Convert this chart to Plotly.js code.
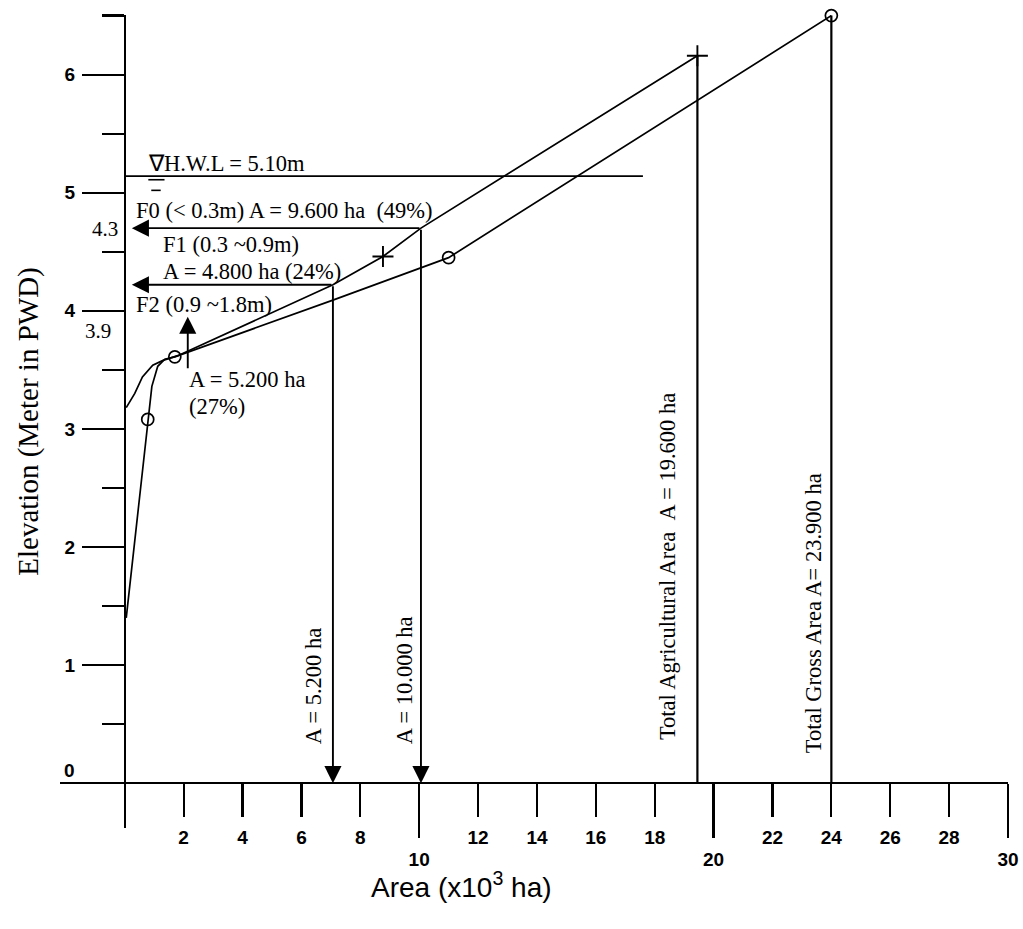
<!DOCTYPE html>
<html>
<head>
<meta charset="utf-8">
<script src="https://cdn.plot.ly/plotly-3.0.1.min.js"></script>
<style>html,body{margin:0;padding:0;background:#fff;}</style>
</head>
<body>
<div id="chart" style="width:1023px;height:929px;"></div>
<script>
// ---- Data (area in x10^3 ha, elevation in m PWD) ----
const grossArea = [0.05, 0.78, 0.92, 1.12, 1.36, 1.70, 7.07, 11.0, 24.0];
const grossElev = [1.40, 3.08, 3.36, 3.53, 3.59, 3.61, 4.09, 4.45, 6.50];
const grossMarkArea = [0.78, 1.70, 11.0, 24.0];
const grossMarkElev = [3.08, 3.61, 4.45, 6.50];

const agriArea = [0.05, 0.34, 0.60, 0.95, 1.30, 1.80, 7.07, 8.77, 10.06, 19.45];
const agriElev = [3.18, 3.30, 3.44, 3.54, 3.58, 3.62, 4.22, 4.46, 4.70, 6.16];
const agriMarkArea = [8.77, 19.45];
const agriMarkElev = [4.46, 6.16];

const hwlElev = 5.14;          // drawn level of H.W.L
const hwlEndArea = 17.6;

const floodLevels = [4.70, 4.22];      // F0 and F1 limits (drawn levels)
const floodCornerArea = [10.06, 7.07]; // where the levels meet the curve
const f2Arrow = {x: 2.14, from: 3.50, to: 3.95};

const totalsArea = [19.45, 24.0];
const totalsTop = [6.16, 6.50];

const xTickShort = [2, 4, 6, 8, 12, 14, 16, 18, 22, 24, 26, 28];
const xTickLong = [10, 20, 30];
const yTickMajor = [1, 2, 3, 4, 5, 6];

// ---- Styles ----
const serif = 'Liberation Serif, Times New Roman, serif';
const sans = 'Liberation Sans, Arial, sans-serif';
const black = '#000';
const xr = [-2.2, 30.0];
const yr = [-0.38, 6.505];
const xPos = (0 - yr[0]) / (yr[1] - yr[0]);
const yPos = (0 - xr[0]) / (xr[1] - xr[0]);
const annFont = {family: serif, size: 22.5, color: black};
const tickFont = {family: sans, size: 19, color: black, weight: 'bold'};

const traces = [
  {x: grossArea, y: grossElev, mode: 'lines', line: {color: black, width: 1.7}, cliponaxis: false, hoverinfo: 'skip'},
  {x: agriArea, y: agriElev, mode: 'lines', line: {color: black, width: 1.7}, cliponaxis: false, hoverinfo: 'skip'},
  {x: grossMarkArea, y: grossMarkElev, mode: 'markers', cliponaxis: false,
   marker: {symbol: 'circle-open', size: 12, color: black, line: {width: 1.7, color: black}}},
  {x: agriMarkArea, y: agriMarkElev, mode: 'markers', cliponaxis: false,
   marker: {symbol: 'cross-thin-open', size: 15, color: black, line: {width: 1.9, color: black}}},
  {x: [0, hwlEndArea], y: [hwlElev, hwlElev], mode: 'lines', line: {color: black, width: 1.7}, hoverinfo: 'skip'},
  {x: [0.8, 1.35], y: [hwlElev - 0.03, hwlElev - 0.03], mode: 'lines', line: {color: black, width: 1.6}, hoverinfo: 'skip'},
  {x: [0.9, 1.22], y: [hwlElev - 0.12, hwlElev - 0.12], mode: 'lines', line: {color: black, width: 1.6}, hoverinfo: 'skip'},
  {x: xTickLong, y: [0, 0, 0], xaxis: 'x2', mode: 'lines', line: {width: 0}, hoverinfo: 'skip'}
];
totalsArea.forEach((a, i) => {
  traces.push({x: [a, a], y: [totalsTop[i], 0], mode: 'lines', line: {color: black, width: 2.2}, hoverinfo: 'skip'});
});

const annotations = [];
function arrow(x, y, ax, ay) {
  annotations.push({x: x, y: y, ax: ax, ay: ay, xref: 'x', yref: 'y', axref: 'x', ayref: 'y',
    text: '', showarrow: true, arrowhead: 2, arrowsize: 1.8, arrowwidth: 1.9, arrowcolor: black,
    standoff: 0, startstandoff: 0});
}
floodLevels.forEach((lv, i) => {
  arrow(0.24, lv, floodCornerArea[i], lv);   // horizontal arrow to elevation axis
  arrow(floodCornerArea[i], 0, floodCornerArea[i], lv); // vertical arrow to area axis
});
arrow(f2Arrow.x, f2Arrow.to, f2Arrow.x, f2Arrow.from);

function label(text, x, y, opts) {
  annotations.push(Object.assign({x: x, y: y, xref: 'x', yref: 'y', text: text, showarrow: false,
    xanchor: 'left', yanchor: 'middle', font: annFont}, opts || {}));
}
label('\u2207H.W.L = 5.10m', 0.71, 5.25);
label('F0 (&lt; 0.3m) A = 9.600 ha\u00a0\u00a0(49%)', 0.30, 4.85);
label('F1 (0.3 ~0.9m)', 1.22, 4.56);
label('A = 4.800 ha (24%)', 1.22, 4.33);
label('F2 (0.9 ~1.8m)', 0.30, 4.05);
label('A = 5.200 ha', 2.12, 3.42);
label('(27%)', 2.12, 3.19);
label('4.3', -0.17, 4.69, {xanchor: 'right', font: {family: serif, size: 21, color: black}});
label('3.9', -0.41, 3.83, {xanchor: 'right', font: {family: serif, size: 21, color: black}});
label('0', -1.87, 0.11, {xanchor: 'center', font: tickFont});
label('A = 5.200 ha', 6.39, 0.82, {xanchor: 'center', textangle: -90});
label('A = 10.000 ha', 9.51, 0.87, {xanchor: 'center', textangle: -90});
label('Total Agricultural Area\u00a0\u00a0A = 19.600 ha', 18.42, 1.83, {xanchor: 'center', textangle: -90});
label('Total Gross Area A= 23.900 ha', 23.38, 1.44, {xanchor: 'center', textangle: -90});
annotations.push({x: 11.45, y: -0.07, xref: 'x', yref: 'paper', text: 'Area (x10<sup>3</sup> ha)',
  showarrow: false, xanchor: 'center', yanchor: 'middle', font: {family: sans, size: 28, color: black}});

const axisCommon = {showgrid: false, zeroline: false, color: black, fixedrange: true};
const layout = {
  width: 1023, height: 929,
  margin: {l: 60, r: 15, t: 15, b: 101},
  paper_bgcolor: '#fff', plot_bgcolor: '#fff',
  showlegend: false,
  xaxis: Object.assign({}, axisCommon, {
    range: xr, anchor: 'free', position: xPos,
    showline: true, linewidth: 2.2, linecolor: black,
    tickmode: 'array', tickvals: xTickShort, ticktext: xTickShort.map(String),
    ticks: 'outside', ticklen: 33, tickwidth: 2.2, tickcolor: black,
    ticklabelstandoff: 4,
    tickfont: tickFont
  }),
  xaxis2: Object.assign({}, axisCommon, {
    range: xr, overlaying: 'x', anchor: 'free', position: xPos, side: 'bottom',
    showline: false,
    tickmode: 'array', tickvals: xTickLong, ticktext: xTickLong.map(String),
    ticks: 'outside', ticklen: 54, tickwidth: 2.2, tickcolor: black,
    ticklabelstandoff: 5,
    tickfont: tickFont
  }),
  yaxis: Object.assign({}, axisCommon, {
    range: yr, anchor: 'free', position: yPos,
    showline: true, linewidth: 2.2, linecolor: black,
    tickmode: 'array', tickvals: yTickMajor, ticktext: yTickMajor.map(String),
    ticks: 'outside', ticklen: 42, tickwidth: 2.2, tickcolor: black,
    ticklabelstandoff: 3,
    tickfont: tickFont,
    minor: {dtick: 0.5, tick0: 0, ticks: 'outside', ticklen: 22, tickwidth: 2.2, tickcolor: black},
    title: {text: 'Elevation (Meter in PWD)', font: {family: serif, size: 29, color: black}, standoff: 16}
  }),
  annotations: annotations
};

Plotly.newPlot('chart', traces, layout, {staticPlot: true, displayModeBar: false});
</script>
</body>
</html>
